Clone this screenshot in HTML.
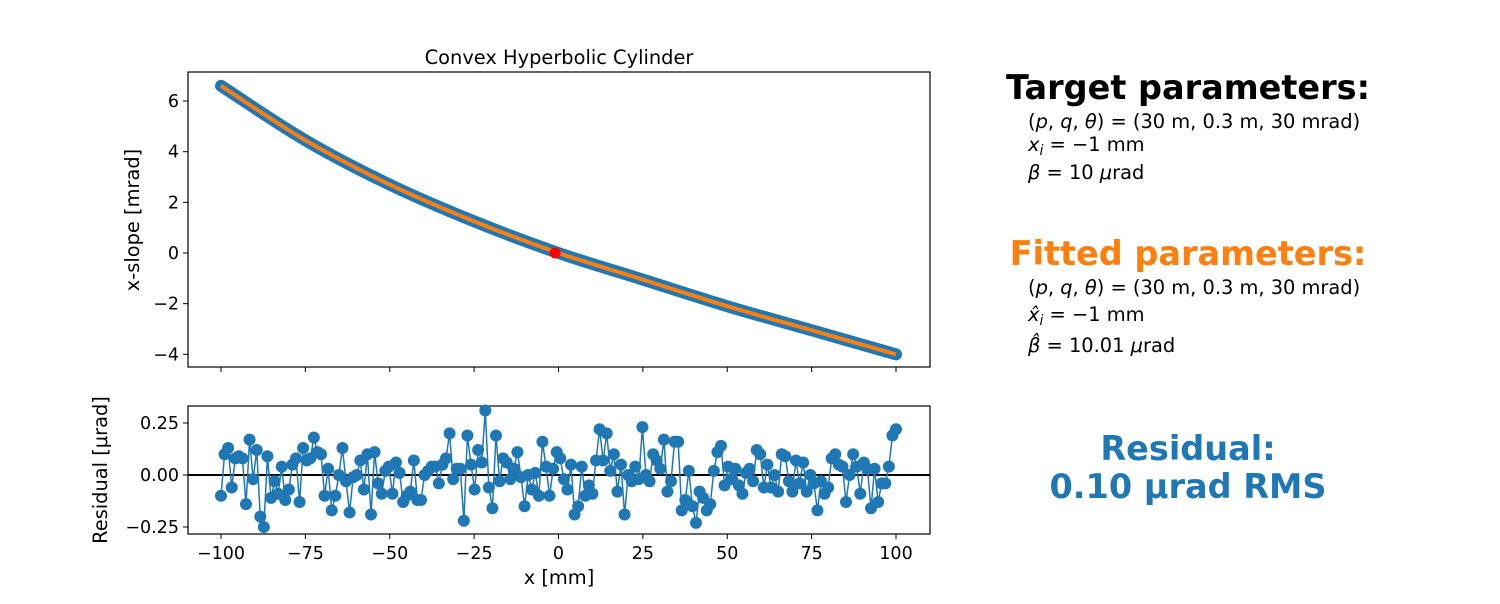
<!DOCTYPE html>
<html><head><meta charset="utf-8"><style>
body{margin:0;background:#fff;width:1500px;height:600px;overflow:hidden;font-family:"DejaVu Sans","Liberation Sans",sans-serif}
svg text{font-family:"DejaVu Sans","Liberation Sans",sans-serif}
</style></head><body>
<svg id="c" width="1500" height="600">
<text x="559" y="64" font-size="19.4" text-anchor="middle">Convex Hyperbolic Cylinder</text>
<rect x="188" y="72" width="742" height="295" fill="none" stroke="#000" stroke-width="1.2"/>
<rect x="188" y="406" width="742" height="128" fill="none" stroke="#000" stroke-width="1.2"/>
<g id="topg"></g><g id="botg"></g>
<text transform="translate(139,220) rotate(-90)" font-size="19.4" text-anchor="middle">x-slope [mrad]</text>
<text transform="translate(107,470) rotate(-90)" font-size="19.4" text-anchor="middle">Residual [μrad]</text>
<text x="559" y="584" font-size="19.4" text-anchor="middle">x [mm]</text>
<text x="1188" y="99" font-size="33.5" font-weight="bold" text-anchor="middle">Target parameters:</text>
<g font-size="19.4">
<text x="1028" y="128">(<tspan font-style="italic">p</tspan>, <tspan font-style="italic">q</tspan>, <tspan font-style="italic">θ</tspan>) = (30 m, 0.3 m, 30 mrad)</text>
<text x="1028" y="151"><tspan font-style="italic">x<tspan font-size="14" dy="4">i</tspan></tspan><tspan dy="-4"> = −1 mm</tspan></text>
<text x="1028" y="179"><tspan font-style="italic">β</tspan> = 10 <tspan font-style="italic">μ</tspan>rad</text>
</g>
<text x="1188" y="265" font-size="33.5" font-weight="bold" fill="#ff7f0e" text-anchor="middle">Fitted parameters:</text>
<g font-size="19.4">
<text x="1028" y="294">(<tspan font-style="italic">p</tspan>, <tspan font-style="italic">q</tspan>, <tspan font-style="italic">θ</tspan>) = (30 m, 0.3 m, 30 mrad)</text>
<text x="1028" y="321"><tspan font-style="italic">x̂<tspan font-size="14" dy="4">i</tspan></tspan><tspan dy="-4"> = −1 mm</tspan></text>
<text x="1028" y="352"><tspan font-style="italic">β̂</tspan> = 10.01 <tspan font-style="italic">μ</tspan>rad</text>
</g>
<text x="1188" y="460" font-size="33.5" font-weight="bold" fill="#1f77b4" text-anchor="middle">Residual:</text>
<text x="1188" y="498" font-size="33.5" font-weight="bold" fill="#1f77b4" text-anchor="middle">0.10 μrad RMS</text>
</svg>
<script>
const slopeX=[-100,-75,-50,-25,0,25,50,75,100];
const slopeY=[6.6,4.45,2.7,1.25,0,-1.05,-2.1,-3.05,-4.0];
const xTicks=[-100,-75,-50,-25,0,25,50,75,100];
const topYTicks=[-4,-2,0,2,4,6];
const resYTicks=[-0.25,0,0.25];
const resTickLabels=["−0.25","0.00","0.25"];
const centerPoint=[-1,0];
const residuals=[-0.10,0.10,0.13,-0.06,0.08,0.09,0.08,-0.14,0.17,-0.02,0.12,-0.20,-0.25,0.09,-0.11,-0.03,-0.09,0.04,-0.12,-0.07,0.05,0.08,-0.13,0.13,0.07,0.08,0.18,0.11,0.10,-0.10,0.03,-0.17,-0.10,0.00,0.13,-0.03,-0.18,-0.01,0.00,0.07,-0.07,0.10,-0.19,0.11,-0.04,-0.09,0.02,0.04,-0.09,0.06,0.01,-0.13,-0.10,-0.08,0.07,-0.12,-0.12,0.00,0.02,0.04,0.04,-0.04,0.05,0.08,0.20,-0.02,0.03,0.03,-0.22,0.19,0.05,-0.07,0.12,0.06,0.31,-0.06,-0.16,0.19,-0.03,0.08,0.06,-0.02,0.03,0.11,-0.01,-0.15,0.00,-0.07,0.01,-0.10,0.16,0.04,-0.10,0.03,0.11,0.08,-0.02,-0.07,0.05,-0.19,-0.15,0.04,-0.10,-0.05,-0.09,0.07,0.22,0.07,0.20,0.02,0.10,-0.08,0.05,-0.19,0.00,-0.03,0.04,-0.02,0.23,0.00,-0.03,0.10,0.07,0.03,0.17,-0.08,-0.03,0.16,0.16,-0.17,-0.12,0.02,-0.15,-0.23,-0.08,-0.11,-0.17,-0.14,0.02,0.11,0.14,-0.05,0.04,-0.02,0.03,-0.05,-0.09,0.01,0.03,-0.03,0.12,0.10,-0.06,0.05,-0.06,0.00,-0.08,0.10,0.09,-0.03,-0.08,0.07,-0.04,0.06,-0.08,0.00,-0.04,-0.17,-0.03,-0.09,-0.06,0.08,0.10,0.05,0.04,-0.13,0.00,0.10,0.04,-0.09,0.06,0.03,-0.16,0.03,-0.13,-0.04,-0.04,0.04,0.19,0.22];
const NS="http://www.w3.org/2000/svg";
const X=v=>221+(v+100)*3.375;
const YT=v=>253-v*25.33;
const YR=v=>475-v*208;
function mk(tag,attrs,parent){const e=document.createElementNS(NS,tag);for(const k in attrs)e.setAttribute(k,attrs[k]);parent.appendChild(e);return e;}
const topG=document.getElementById('topg'),botG=document.getElementById('botg');
xTicks.forEach(t=>{
  const a=mk('line',{x1:X(t),x2:X(t),y1:367,y2:372,stroke:'#000'},topG);
  
  
  const b=mk('line',{x1:X(t),x2:X(t),y1:534,y2:539,stroke:'#000'},botG);
  
  
  const l=mk('text',{x:X(t),y:559,'font-size':17.5,'text-anchor':'middle'},botG);
  l.textContent=(t<0?'−'+(-t):String(t));
  
  
});
topYTicks.forEach(t=>{
  const a=mk('line',{x1:183,x2:188,y1:YT(t),y2:YT(t),stroke:'#000'},topG);
  
  
  const l=mk('text',{x:179,y:YT(t)+6,'font-size':17.5,'text-anchor':'end'},topG);
  l.textContent=(t<0?'−'+(-t):String(t));
  
  
});
resYTicks.forEach((t,i)=>{
  const a=mk('line',{x1:183,x2:188,y1:YR(t),y2:YR(t),stroke:'#000'},botG);
  
  
  const l=mk('text',{x:179,y:YR(t)+6,'font-size':17.5,'text-anchor':'end'},botG);
  l.textContent=resTickLabels[i];
  
  
});
// smooth Catmull-Rom path through the slope samples
const P=slopeX.map((x,i)=>[X(x),YT(slopeY[i])]);
let d='M'+P[0][0]+','+P[0][1];
for(let i=0;i<P.length-1;i++){
  const p0=P[Math.max(0,i-1)],p1=P[i],p2=P[i+1],p3=P[Math.min(P.length-1,i+2)];
  const c1=[p1[0]+(p2[0]-p0[0])/6,p1[1]+(p2[1]-p0[1])/6];
  const c2=[p2[0]-(p3[0]-p1[0])/6,p2[1]-(p3[1]-p1[1])/6];
  d+=' C'+c1[0]+','+c1[1]+' '+c2[0]+','+c2[1]+' '+p2[0]+','+p2[1];
}
const m=mk('path',{d:d,fill:'none',stroke:'#1f77b4','stroke-width':12,'stroke-linecap':'round','stroke-linejoin':'round'},topG);


const f=mk('path',{d:d,fill:'none',stroke:'#ff7f0e','stroke-width':4},topG);


const rp=mk('circle',{cx:X(centerPoint[0]),cy:YT(centerPoint[1]),r:5.5,fill:'#ff0000'},topG);


const z=mk('line',{x1:188,x2:930,y1:YR(0),y2:YR(0),stroke:'#000','stroke-width':2},botG);


const n=residuals.length;
const rx=residuals.map((v,i)=>-100+200*i/(n-1));
const rl=mk('polyline',{points:residuals.map((v,i)=>X(rx[i])+','+YR(v)).join(' '),fill:'none',stroke:'#1f77b4','stroke-width':1.5},botG);


residuals.forEach((v,i)=>{
  const c=mk('circle',{cx:X(rx[i]),cy:YR(v),r:6,fill:'#1f77b4'},botG);
  
  
});
</script>
</body></html>
